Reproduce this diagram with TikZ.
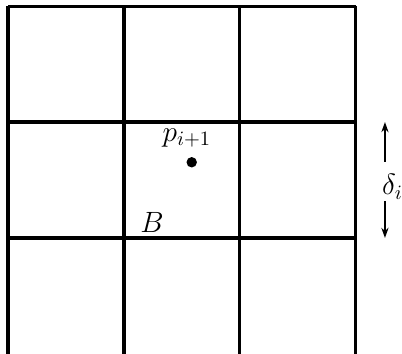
\documentclass[tikz,border=0pt]{standalone}
\usepackage{amsmath,amssymb}
\usepackage{tikz}
\usetikzlibrary{arrows.meta, positioning, calc}
\tikzset{
  %% Grid lines
  gridline/.style={draw=black, line width=1.5pt},
  %% Arrow for the cell size
  arr/.style={-{Stealth[length=5pt,width=3.5pt]},
              draw=black, line width=0.9pt},
  %% Labels
  lbl/.style={font=\Large, inner sep=1pt},
}
\begin{document}
\begin{tikzpicture}[x=2cm, y=2cm]

  %% Bounding box (margins of the picture)
  \useasboundingbox (-0.069,0) rectangle (3.397,3.052);

  %% Vertical lines
  \foreach \x in {0,1,2,3}
    \draw[gridline] (\x,0) -- (\x,3);

  %% Horizontal lines
  \foreach \y in {1,2,3}
    \draw[gridline] (0,\y) -- (3,\y);

  %% Point and labels
  \fill (1.584,1.653) circle (0.045);
  \node[lbl] (p) at (1.543,1.86) {$p_{i+1}$};
  \node[lbl] (B) at (1.241,1.13) {$B$};

  %% Cell size delta
  \coordinate (top) at (3.25,2);
  \coordinate (bot) at (3.25,1);
  \node[inner sep=0pt, minimum height=0.672cm, minimum width=2pt] (gap) at (3.25,1.487) {};
  \node[lbl] (delta) at (3.315,1.44) {$\delta_i$};
  \draw[arr] (gap.north) -- (top);
  \draw[arr] (gap.south) -- (bot);

\end{tikzpicture}
\end{document}
